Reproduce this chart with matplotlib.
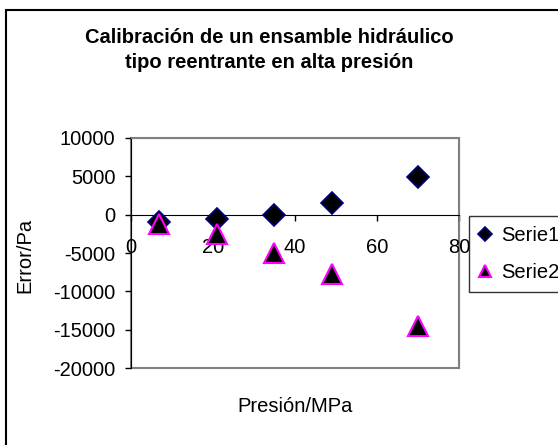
import numpy as np
import matplotlib
matplotlib.use("Agg")
import matplotlib.pyplot as plt
from matplotlib.patches import Rectangle

plt.rcParams['font.family'] = ['Liberation Sans', 'DejaVu Sans']

# data
presion = [7, 21, 35, 49, 70]
serie1 = [-1000, -500, 0, 1500, 4900]
serie2 = [-1200, -2500, -5000, -7800, -14500]

titulo = "Calibración de un ensamble hidráulico\ntipo reentrante en alta presión"
xticks = [0, 20, 40, 60, 80]
yticks = [10000, 5000, 0, -5000, -10000, -15000, -20000]

fig = plt.figure(figsize=(5.58, 4.45), dpi=100)
ax = fig.add_axes([0.234, 0.173, 0.5886, 0.5169])

ax.plot(presion, serie1, linestyle='none', marker='D', markersize=11,
        markerfacecolor='black', markeredgecolor='#000080', markeredgewidth=1.2,
        label='Serie1', zorder=4)
ax.plot(presion, serie2, linestyle='none', marker='^', markersize=14,
        markerfacecolor='black', markeredgecolor='#ff00ff', markeredgewidth=1.5,
        label='Serie2', zorder=5)

ax.set_xlim(0, 80)
ax.set_ylim(-20000, 10000)
ax.set_xticks(xticks)
ax.set_yticks(yticks)
ax.set_yticklabels([str(v) for v in yticks])

# plot area frame gray, axes black
for s in ['top', 'right']:
    ax.spines[s].set_color('#808080')
ax.spines['left'].set_color('black')
ax.spines['bottom'].set_position(('data', 0))
ax.spines['bottom'].set_color('black')
ax.add_patch(Rectangle((0, 0), 1, 1, transform=ax.transAxes, fill=False,
                       edgecolor='#808080', linewidth=1.5, zorder=1, clip_on=False))

ax.tick_params(axis='both', direction='out', length=4, width=1, labelsize=14.5)
ax.tick_params(axis='x', pad=13)
ax.tick_params(axis='y', pad=7)

fig.text(25 / 558, 1 - 255 / 445, "Error/Pa", rotation=90, ha='center', va='center', fontsize=14.5)
fig.text(295 / 558, 1 - 407 / 445, "Presión/MPa", ha='center', va='center', fontsize=14.5)
fig.text(269 / 558, 1 - 50 / 445, titulo, ha='center', va='center', fontsize=14.5,
         fontweight='bold', linespacing=1.45)

leg = fig.legend(loc='upper left', bbox_to_anchor=(469 / 558, 1 - 216 / 445),
                 fontsize=14.5, frameon=True, fancybox=False, markerscale=0.65,
                 handlelength=0.6, handletextpad=0.5, borderpad=0.5,
                 labelspacing=0.9, borderaxespad=0)
leg.get_frame().set_edgecolor('black')
leg.get_frame().set_linewidth(1)

# outer chart border
fig.patches.append(Rectangle((6 / 558, -0.1), 1.2, 1.1 - 10 / 445,
                             transform=fig.transFigure, fill=False,
                             edgecolor='black', linewidth=1.5))

fig.savefig("out.png", dpi=100)
